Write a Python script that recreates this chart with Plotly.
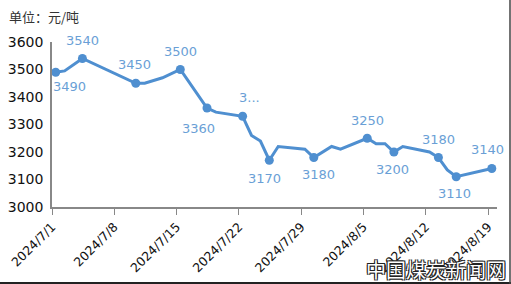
import plotly.graph_objects as go

# ---- data ----
line_dates = ["2024-07-01 10:00", "2024-07-02 10:00", "2024-07-04 10:00", "2024-07-10 10:00",
              "2024-07-11 10:00", "2024-07-13 10:00", "2024-07-15 10:00", "2024-07-18 10:00",
              "2024-07-19 10:00", "2024-07-22 10:00", "2024-07-23 10:00", "2024-07-24 10:00",
              "2024-07-25 10:00", "2024-07-26 10:00", "2024-07-29 10:00", "2024-07-30 10:00",
              "2024-08-01 10:00", "2024-08-02 10:00", "2024-08-05 10:00", "2024-08-06 10:00",
              "2024-08-07 10:00", "2024-08-08 10:00", "2024-08-09 10:00", "2024-08-12 10:00",
              "2024-08-13 10:00", "2024-08-14 10:00", "2024-08-15 10:00", "2024-08-19 10:00"]
line_values = [3490, 3495, 3540, 3450, 3450, 3470, 3500, 3360, 3345, 3330, 3260, 3240,
               3170, 3220, 3210, 3180, 3220, 3210, 3250, 3230, 3230, 3200, 3220, 3200,
               3180, 3135, 3110, 3140]

marker_dates = ["2024-07-01 10:00", "2024-07-04 10:00", "2024-07-10 10:00", "2024-07-15 10:00",
                "2024-07-18 10:00", "2024-07-22 10:00", "2024-07-25 10:00", "2024-07-30 10:00",
                "2024-08-05 10:00", "2024-08-08 10:00", "2024-08-13 10:00", "2024-08-15 10:00",
                "2024-08-19 10:00"]
marker_values = [3490, 3540, 3450, 3500, 3360, 3330, 3170, 3180, 3250, 3200, 3180, 3110, 3140]
marker_labels = ["3490", "3540", "3450", "3500", "3360", "3...", "3170", "3180", "3250",
                 "3200", "3180", "3110", "3140"]

tick_dates = ["2024-07-01", "2024-07-08", "2024-07-15", "2024-07-22", "2024-07-29",
              "2024-08-05", "2024-08-12", "2024-08-19"]
tick_labels = ["2024/7/1", "2024/7/8", "2024/7/15", "2024/7/22", "2024/7/29",
               "2024/8/5", "2024/8/12", "2024/8/19"]

# label offsets in pixels (dx right, dy down) -- style only
label_offsets = [(14, 14), (0, -18), (-1, -19), (0, -18), (-9, 20), (7, -19), (-5, 18),
                 (5, 17), (0, -18), (-1, 17), (0, -18), (-2, 17), (-4, -19)]

LINE = "#4f8fd0"
LABEL = "#6a9fd6"

# plot area in pixels
L, R, T, B = 52, 14, 42, 77
PW, PH = 511 - L - R, 284 - T - B


def px(x):
    return (x - L) / PW


def py(y):
    return (284 - B - y) / PH


fig = go.Figure()
fig.add_trace(go.Scatter(x=line_dates, y=line_values, mode="lines",
                         line=dict(color=LINE, width=3), hoverinfo="skip", showlegend=False))
fig.add_trace(go.Scatter(x=marker_dates, y=marker_values, mode="markers",
                         marker=dict(color=LINE, size=9), showlegend=False))

for d, v, t, (dx, dy) in zip(marker_dates, marker_values, marker_labels, label_offsets):
    fig.add_annotation(x=d, y=v, xref="x", yref="y", text=t, showarrow=False,
                       xshift=dx, yshift=-dy, xanchor="center", yanchor="middle",
                       font=dict(family="DejaVu Sans", size=13, color=LABEL))

fig.add_annotation(x=px(7), y=py(17), xref="paper", yref="paper", text="单位：元/吨",
                   showarrow=False, xanchor="left", yanchor="middle",
                   font=dict(family="Noto Sans CJK SC", size=13, color="#333333"))

fig.add_annotation(x=px(436), y=py(269), xref="paper", yref="paper",
                   text="中国煤炭新闻网", showarrow=False, xanchor="center", yanchor="middle",
                   font=dict(family="Noto Sans CJK SC", size=20, color="white",
                             shadow="-1px -1px 0 #222, 1px -1px 0 #222, -1px 1px 0 #222, 1px 1px 0 #222"))

# image border (bottom and right)
fig.add_shape(type="line", xref="paper", yref="paper",
              x0=px(0), x1=px(511), y0=py(283), y1=py(283),
              line=dict(color="#222222", width=2))
fig.add_shape(type="line", xref="paper", yref="paper",
              x0=px(510), x1=px(510), y0=py(284), y1=py(0),
              line=dict(color="#444444", width=1.5))

fig.update_layout(
    width=511, height=284,
    margin=dict(l=L, r=R, t=T, b=B, autoexpand=False),
    paper_bgcolor="white", plot_bgcolor="white",
    font=dict(family="DejaVu Sans", color="#111111"),
    xaxis=dict(type="date", range=["2024-07-01", "2024-08-20"], automargin=False,
               tickmode="array", tickvals=tick_dates, ticktext=tick_labels,
               tickangle=-45, ticks="outside", ticklen=6, tickcolor="#888888",
               showline=True, linecolor="#888888", linewidth=1.5, showgrid=False, zeroline=False,
               tickfont=dict(family="DejaVu Sans", size=12.5, color="#111111")),
    yaxis=dict(range=[3000, 3600], dtick=100, showline=True, linecolor="#888888", linewidth=1.5,
               showgrid=False, zeroline=False, ticks="", ticklabelstandoff=4, automargin=False,
               tickfont=dict(family="DejaVu Sans", size=14, color="#111111")),
)

fig.write_html("out.html")
